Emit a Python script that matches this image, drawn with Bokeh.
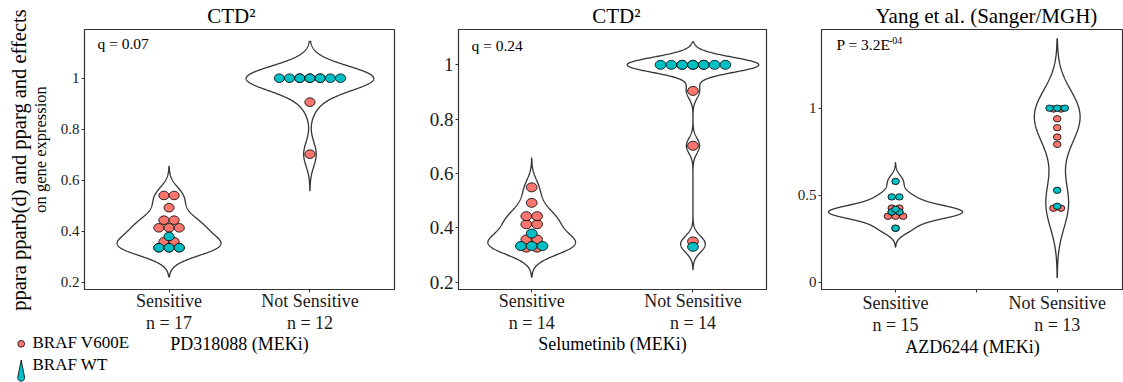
import numpy as np
from bokeh.plotting import figure
from bokeh.layouts import row, column
from bokeh.models import FixedTicker, Label, Range1d
from bokeh.core.properties import value
from bokeh.embed import file_html
from bokeh.resources import INLINE

# ---------------- data ----------------
categories = ["Sensitive", "Not Sensitive"]
titles = ["CTD\u00b2", "CTD\u00b2", "Yang et al. (Sanger/MGH)"]
drugs = ["PD318088 (MEKi)", "Selumetinib (MEKi)", "AZD6244 (MEKi)"]
stat_texts = ["q = 0.07", "q = 0.24", "P = 3.2E"]
stat_sup = ["", "", "-04"]
legend_labels = ["BRAF V600E", "BRAF WT"]
ylabel_lines = ["ppara pparb(d) and pparg and effects", "on gene expression"]

# panel 1 (CTD2, PD318088)
p1_sens_v600e = [0.54, 0.54, 0.492, 0.443, 0.443, 0.413, 0.413, 0.413, 0.358, 0.358, 0.335, 0.335, 0.335]
p1_sens_wt = [0.379, 0.335, 0.335, 0.335]
p1_ns_v600e = [1.0, 1.0, 1.0, 0.906, 0.702]
p1_ns_wt = [1.0, 1.0, 1.0, 1.0, 1.0, 1.0, 1.0]
# panel 2 (CTD2, Selumetinib)
p2_sens_v600e = [0.549, 0.492, 0.443, 0.443, 0.413, 0.413, 0.357, 0.357, 0.327, 0.327]
p2_sens_wt = [0.379, 0.333, 0.333, 0.333]
p2_ns_v600e = [1.0, 1.0, 1.0, 0.904, 0.702, 0.35]
p2_ns_wt = [1.0, 1.0, 1.0, 1.0, 1.0, 1.0, 1.0, 0.33]
# panel 3 (Yang et al., AZD6244)
p3_sens_v600e = [0.426, 0.426, 0.404, 0.404, 0.379, 0.379, 0.379, 0.31]
p3_sens_wt = [0.579, 0.49, 0.49, 0.419, 0.404, 0.404, 0.31]
p3_ns_v600e = [0.995, 0.995, 0.939, 0.888, 0.834, 0.792, 0.425, 0.425]
p3_ns_wt = [1.0, 1.0, 1.0, 0.528, 0.436]

y_ticks = [[0.2, 0.4, 0.6, 0.8, 1.0], [0.2, 0.4, 0.6, 0.8, 1.0], [0.0, 0.5, 1.0]]
y_tick_labels = [["0.2", "0.4", "0.6", "0.8", "1"], ["0.2", "0.4", "0.6", "0.8", "1"], ["0", "0.5", "1"]]

panels = [
    [(p1_sens_v600e, p1_sens_wt), (p1_ns_v600e, p1_ns_wt)],
    [(p2_sens_v600e, p2_sens_wt), (p2_ns_v600e, p2_ns_wt)],
    [(p3_sens_v600e, p3_sens_wt), (p3_ns_v600e, p3_ns_wt)],
]

# ---------------- style / layout ----------------
RED = "#F8766D"
TEAL = "#00BFC4"
FONT = "Liberation Serif"
LINE = "#333333"
H = 382
TOP = 29
FH = 260
geoms = [
    dict(abs_left=0, bl=84, fw=310, br=26, xr=(0.4, 2.6), yr=(0.171, 1.191)),
    dict(abs_left=420, bl=38, fw=308, br=24, xr=(0.546, 2.456), yr=(0.173, 1.130)),
    dict(abs_left=790, bl=31, fw=302, br=0, xr=(0.542, 2.410), yr=(-0.042, 1.452)),
]
bandwidths = [[0.038, 0.048], [0.036, 0.028], [0.036, 0.133]]
violin_widths = [[0.738, 0.906], [0.544, 0.816], [0.829, 0.283]]
dot_px = [(10.2, 8.6), (10.8, 9.0), (7.6, 6.4)]
ytick_font = ["15px", "19px", "15px"]
title_left = [206.7, 591.7, 875]
stat_pos = [(97, 43), (471, 45), (836, 44)]
xlab_standoff = [-2, -2, 0]
xaxis_standoff = [-2, -2, -1]


def to_data(g, X, Y):
    x0, x1 = g["xr"]
    y0, y1 = g["yr"]
    fl = g["abs_left"] + g["bl"]
    return (x0 + (X - fl) / g["fw"] * (x1 - x0),
            y1 - (Y - TOP) / FH * (y1 - y0))


def violin(vals, bw, width, xc):
    v = np.asarray(vals, float)
    grid = np.linspace(v.min() - 3 * bw, v.max() + 3 * bw, 512)
    dens = np.exp(-0.5 * ((grid[:, None] - v[None, :]) / bw) ** 2).sum(axis=1)
    half = dens / dens.max() * width / 2.0
    xs = np.concatenate([xc - half, (xc + half)[::-1]])
    ys = np.concatenate([grid, grid[::-1]])
    return xs, ys


def dots(vals, xc, spacing):
    xs, ys = [], []
    for u in sorted(set(vals)):
        k = vals.count(u)
        for i in range(k):
            xs.append(xc + (i - (k - 1) / 2.0) * spacing)
            ys.append(u)
    return xs, ys


figs = []
for pi, (g, groups) in enumerate(zip(geoms, panels)):
    W = g["bl"] + g["fw"] + g["br"]
    p = figure(width=W, height=H, output_backend="svg", toolbar_location=None,
               x_range=Range1d(*g["xr"]), y_range=Range1d(*g["yr"]),
               min_border_left=g["bl"], min_border_right=g["br"],
               min_border_top=TOP, min_border_bottom=H - TOP - FH,
               background_fill_color="white", border_fill_color="white")
    p.xgrid.visible = False
    p.ygrid.visible = False
    p.outline_line_color = LINE
    p.outline_line_width = 1.2

    px_per_x = g["fw"] / (g["xr"][1] - g["xr"][0])
    spacing = dot_px[pi][0] / px_per_x
    for ci, (red_vals, teal_vals) in enumerate(groups):
        xc = ci + 1
        allv = red_vals + teal_vals
        vx, vy = violin(allv, bandwidths[pi][ci], violin_widths[pi][ci], xc)
        p.patch(vx, vy, fill_color="white", line_color=LINE, line_width=1.3)
        for vals, col in ((red_vals, RED), (teal_vals, TEAL)):
            dx, dy = dots(vals, xc, spacing)
            p.ellipse(dx, dy, width=dot_px[pi][0], height=dot_px[pi][1],
                      width_units="screen", height_units="screen",
                      fill_color=col, line_color="black", line_width=0.8)

    # axes
    ticks_x = [1, 2] if pi < 2 else [1, 1.5, 2]
    p.xaxis.ticker = FixedTicker(ticks=ticks_x)
    overrides = {}
    for ci, cat in enumerate(categories):
        n = len(groups[ci][0]) + len(groups[ci][1])
        overrides[ci + 1] = f"{cat}\nn = {n}"
    if pi == 2:
        overrides[1.5] = ""
    p.xaxis.major_label_overrides = overrides
    p.xaxis.axis_label = drugs[pi]
    p.yaxis.ticker = FixedTicker(ticks=y_ticks[pi])
    p.yaxis.major_label_overrides = dict(zip(y_ticks[pi], y_tick_labels[pi]))
    for ax in (p.xaxis[0], p.yaxis[0]):
        ax.axis_line_color = LINE
        ax.major_tick_line_color = LINE
        ax.major_tick_in = 0
        ax.major_tick_out = 3
        ax.minor_tick_line_color = None
        ax.major_label_text_font = FONT
        ax.major_label_text_color = "#1a1a1a"
        ax.axis_label_text_font = FONT
        ax.axis_label_text_font_style = "normal"
        ax.axis_label_text_color = "black"
    p.xaxis.major_label_text_font_size = "18px"
    p.xaxis.major_label_text_line_height = 1.1
    p.xaxis.major_label_standoff = xlab_standoff[pi]
    p.xaxis.axis_label_text_font_size = "18px"
    p.xaxis.axis_label_standoff = xaxis_standoff[pi]
    p.yaxis.major_label_text_font_size = ytick_font[pi]
    p.yaxis.major_label_standoff = 2

    # title
    p.title.text = titles[pi]
    p.title.align = "left"
    p.title.vertical_align = "top"
    p.title.offset = title_left[pi] - (g["abs_left"] + g["bl"])
    p.title.standoff = 0
    p.title.text_font = FONT
    p.title.text_font_size = "21px"
    p.title.text_font_style = "normal"
    p.title.text_color = "black"

    # statistic
    sx, sy = to_data(g, *stat_pos[pi])
    p.add_layout(Label(x=sx, y=sy, text=stat_texts[pi], text_font=FONT, text_font_size="15.5px",
                       text_align="left", text_baseline="middle", text_color="black"))
    if stat_sup[pi]:
        ux, uy = to_data(g, stat_pos[pi][0] + 52.5, stat_pos[pi][1] - 4)
        p.add_layout(Label(x=ux, y=uy, text=stat_sup[pi], text_font=FONT, text_font_size="10px",
                           text_align="left", text_baseline="middle", text_color="black"))
    figs.append(p)

# ---------------- transparent overlay: y-axis title and legend ----------------
OW = 135
ov = figure(width=OW, height=H, output_backend="svg", toolbar_location=None,
            x_range=Range1d(0, OW), y_range=Range1d(0, H),
            x_axis_location=None, y_axis_location=None,
            min_border_left=0, min_border_right=0, min_border_top=0, min_border_bottom=0,
            background_fill_alpha=0, border_fill_alpha=0, outline_line_color=None,
            margin=(-H, 0, 0, 0))
ov.grid.visible = False

for (X, Y, size), txt in zip([(18, 159.5, "20.5px"), (40, 149, "16.5px")], ylabel_lines):
    ov.text(x=[X], y=[H - Y], text=[txt], angle=np.pi / 2, text_font=value(FONT),
            text_font_size=value(size), text_align="center", text_baseline="middle",
            text_color="black")

# legend keys
ov.ellipse(x=[20.7], y=[H - 343.3], width=6.8, height=6.8, width_units="screen",
           height_units="screen", fill_color=RED, line_color="black", line_width=0.8)
tcx, tcy, tr, ttop = 20.7, 377.2, 3.5, 359.5
ang = np.linspace(0, np.pi, 24)
txs = [tcx] + list(tcx + tr * np.cos(ang))
tys = [H - ttop] + list(H - (tcy + tr * np.sin(ang)))
ov.patch(txs, tys, fill_color=TEAL, line_color="black", line_width=0.8)
for (X, Y), txt in zip([(32, 342), (32, 363.5)], legend_labels):
    ov.text(x=[X], y=[H - Y], text=[txt], text_font=value(FONT), text_font_size=value("17px"),
            text_align="left", text_baseline="middle", text_color="black")

layout = column(row(*figs), ov)
open("out.html", "w").write(file_html(layout, INLINE))
